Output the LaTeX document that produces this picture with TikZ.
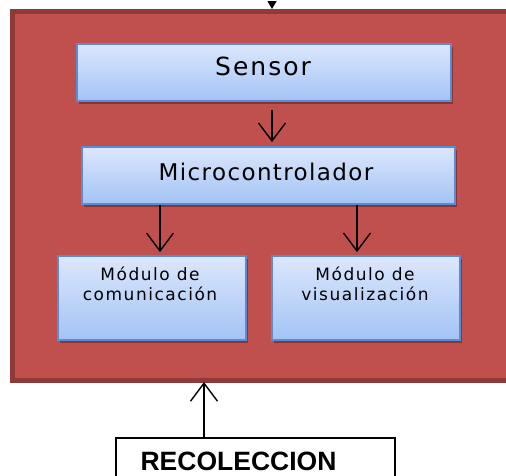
\documentclass[tikz,border=0pt]{standalone}
\usepackage{fontspec}
\setmainfont{DejaVu Sans}
\newfontfamily\recfont{Liberation Sans}
\usetikzlibrary{arrows.meta,shadows}
\definecolor{redfill}{HTML}{C0504D}
\definecolor{rededge}{HTML}{8E3A38}
\definecolor{bluetop}{HTML}{DCE7FC}
\definecolor{bluebot}{HTML}{A3C3F5}
\definecolor{blueedge}{HTML}{5B8BD0}
\begin{document}
\begin{tikzpicture}[x=1pt,y=-1pt,
  frame/.style={draw=rededge, fill=redfill, line width=5pt, inner sep=0pt},
  bluebox/.style={draw=blueedge, line width=1.8pt, top color=bluetop, bottom color=bluebot, inner sep=0pt,
    drop shadow={opacity=0.3, shadow xshift=2pt, shadow yshift=-3pt, fill=black}},
  bigtxt/.style={font=\fontsize{23}{27}\selectfont\addfontfeature{LetterSpace=6}, inner sep=0pt, anchor=base},
  modtxt/.style={font=\fontsize{17}{20}\selectfont\addfontfeature{LetterSpace=9}, inner sep=0pt, anchor=north, align=center},
  rectxt/.style={font=\recfont\bfseries\fontsize{26.5}{30}\selectfont, inner sep=0pt, anchor=base},
  recbox/.style={draw=black, line width=1.6pt, fill=white, inner sep=0pt},
  arr/.style={draw=black, line width=1.4pt, -{Straight Barb[length=18pt,width=27pt,line width=1.4pt]}},
  toparr/.style={draw=black, line width=1.4pt, -{Triangle[length=8pt,width=9pt]}}
]
\useasboundingbox (0,0) rectangle (506,475);
\fill[white] (0,0) rectangle (506,475);

% outer red block
\node[frame, minimum width=496pt, minimum height=369pt] (frame) at (260.5,196) {};

% blue boxes
\node[bluebox, minimum width=374pt, minimum height=57pt] (sensor) at (264,72.5) {};
\node[bluebox, minimum width=373pt, minimum height=57pt] (micro) at (268.5,175.5) {};
\node[bluebox, minimum width=188pt, minimum height=84pt] (modcom) at (152,298) {};
\node[bluebox, minimum width=188pt, minimum height=84pt] (modvis) at (366,298) {};

% texts
\node[bigtxt, font=\fontsize{25}{29}\selectfont\addfontfeature{LetterSpace=8}] (tsensor) at (263,75) {Sensor};
\node[bigtxt] (tmicro) at (266,180) {Microcontrolador};
\node[modtxt] (tcom) at (150,266.5) {Módulo de\\comunicación};
\node[modtxt] (tvis) at (365,266.5) {Módulo de\\visualización};

% bottom box
\node[recbox, minimum width=279pt, minimum height=64pt] (recol) at (255.5,470) {};
\node[rectxt] (trecol) at (238.5,470) {RECOLECCION};

% helper coordinates
\coordinate (xa) at (272,0);
\coordinate (xl) at (160,0);
\coordinate (xr) at (357,0);
\coordinate (xu) at (204,0);
\coordinate (topin) at (272,2);

% connectors
\draw[toparr] (topin) -- (frame.north -| xa);
\draw[arr, shorten <=8pt, shorten >=4pt] (sensor.south -| xa) -- (micro.north -| xa);
\draw[arr, shorten >=3pt] (micro.south -| xl) -- (modcom.north -| xl);
\draw[arr, shorten >=3pt] (micro.south -| xr) -- (modvis.north -| xr);
\draw[arr, shorten >=-1pt] (recol.north -| xu) -- (frame.south -| xu);
\end{tikzpicture}
\end{document}
